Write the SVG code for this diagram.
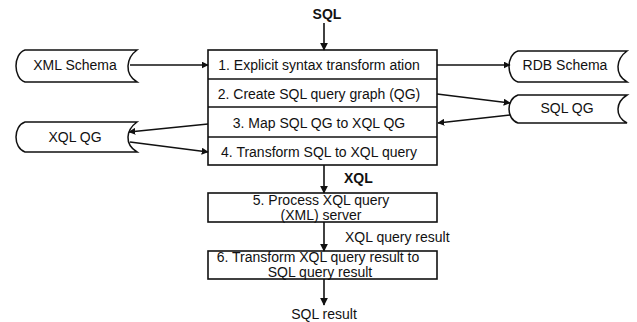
<svg xmlns="http://www.w3.org/2000/svg" width="637" height="322" viewBox="0 0 637 322">
  <style>
    .t { font-family: "Liberation Sans", Arial, sans-serif; font-size: 14px; fill: #111; }
    .b { font-weight: bold; }
    .m { text-anchor: middle; }
    .box { fill: #fff; stroke: #111; stroke-width: 1.6; }
    .div { stroke: #111; stroke-width: 1.4; }
    .store { fill: #fff; stroke: #111; stroke-width: 1.5; }
    .ln { fill: none; stroke: #111; stroke-width: 1.6; }
  </style>
  <defs>
    <marker id="ah" viewBox="0 0 10 10" refX="9" refY="5" markerWidth="7" markerHeight="7" markerUnits="userSpaceOnUse" orient="auto">
      <path d="M0,0 L10,5 L0,10 Z" fill="#111"/>
    </marker>
    <marker id="ahv" viewBox="0 0 10 10" refX="9" refY="5" markerWidth="8" markerHeight="8" markerUnits="userSpaceOnUse" orient="auto">
      <path d="M0,0 L10,5 L0,10 Z" fill="#111"/>
    </marker>
  </defs>

  <!-- main processing box with four steps -->
  <g id="steps">
    <rect class="box" x="208" y="50" width="229" height="115"/>
    <line class="div" x1="208" y1="79" x2="437" y2="79"/>
    <line class="div" x1="208" y1="107" x2="437" y2="107"/>
    <line class="div" x1="208" y1="137" x2="437" y2="137"/>
    <text class="t m" x="319" y="70">1. Explicit syntax transform ation</text>
    <text class="t m" x="319" y="99">2. Create SQL query graph (QG)</text>
    <text class="t m" x="319" y="128">3. Map SQL QG to XQL QG</text>
    <text class="t m" x="319" y="157">4. Transform SQL to XQL query</text>
  </g>

  <g id="step5">
    <rect class="box" x="208" y="193" width="229" height="29"/>
    <text class="t m" x="321" y="205">5. Process XQL query</text>
    <text class="t m" x="321" y="220">(XML) server</text>
  </g>

  <g id="step6">
    <rect class="box" x="208" y="251" width="229" height="28"/>
    <text class="t m" x="318" y="262">6. Transform XQL query result to</text>
    <text class="t m" x="320" y="277">SQL query result</text>
  </g>

  <!-- stored data symbols -->
  <g id="xml-schema">
    <path class="store" d="M25,50 H137 C126,58 124,74 137,82 H25 C13,78 13,54 25,50 Z"/>
    <text class="t m" x="75" y="70">XML Schema</text>
  </g>
  <g id="xql-qg">
    <path class="store" d="M25,122 H137 C126,130 124,144 137,152 H25 C13,148 13,126 25,122 Z"/>
    <text class="t m" x="75" y="142">XQL QG</text>
  </g>
  <g id="rdb-schema">
    <path class="store" d="M518,51 H627 C616,59 614,74 627,82 H518 C506,78 506,55 518,51 Z"/>
    <text class="t m" x="565" y="70">RDB Schema</text>
  </g>
  <g id="sql-qg">
    <path class="store" d="M518,95 H627 C616,102 614,116 627,123 H518 C506,119 506,99 518,95 Z"/>
    <text class="t m" x="567" y="113">SQL QG</text>
  </g>

  <!-- flow labels -->
  <g id="labels">
    <text class="t b m" x="327" y="19">SQL</text>
    <text class="t b" x="344" y="183">XQL</text>
    <text class="t" x="345" y="242">XQL query result</text>
    <text class="t m" x="324" y="319">SQL result</text>
  </g>

  <!-- connectors -->
  <g id="connectors">
    <line class="ln" x1="324" y1="23" x2="324" y2="50" marker-end="url(#ahv)"/>
    <line class="ln" x1="130" y1="65" x2="208" y2="65" marker-end="url(#ah)"/>
    <line class="ln" x1="437" y1="65" x2="510" y2="65" marker-end="url(#ah)"/>
    <line class="ln" x1="437" y1="94" x2="510" y2="103" marker-end="url(#ah)"/>
    <line class="ln" x1="510" y1="115" x2="438" y2="123" marker-end="url(#ah)"/>
    <line class="ln" x1="208" y1="124" x2="129" y2="132" marker-end="url(#ah)"/>
    <line class="ln" x1="130" y1="142" x2="208" y2="152" marker-end="url(#ah)"/>
    <line class="ln" x1="324" y1="165" x2="324" y2="193" marker-end="url(#ahv)"/>
    <line class="ln" x1="324" y1="222" x2="324" y2="251" marker-end="url(#ahv)"/>
    <line class="ln" x1="324" y1="279" x2="324" y2="305" marker-end="url(#ahv)"/>
  </g>
</svg>
